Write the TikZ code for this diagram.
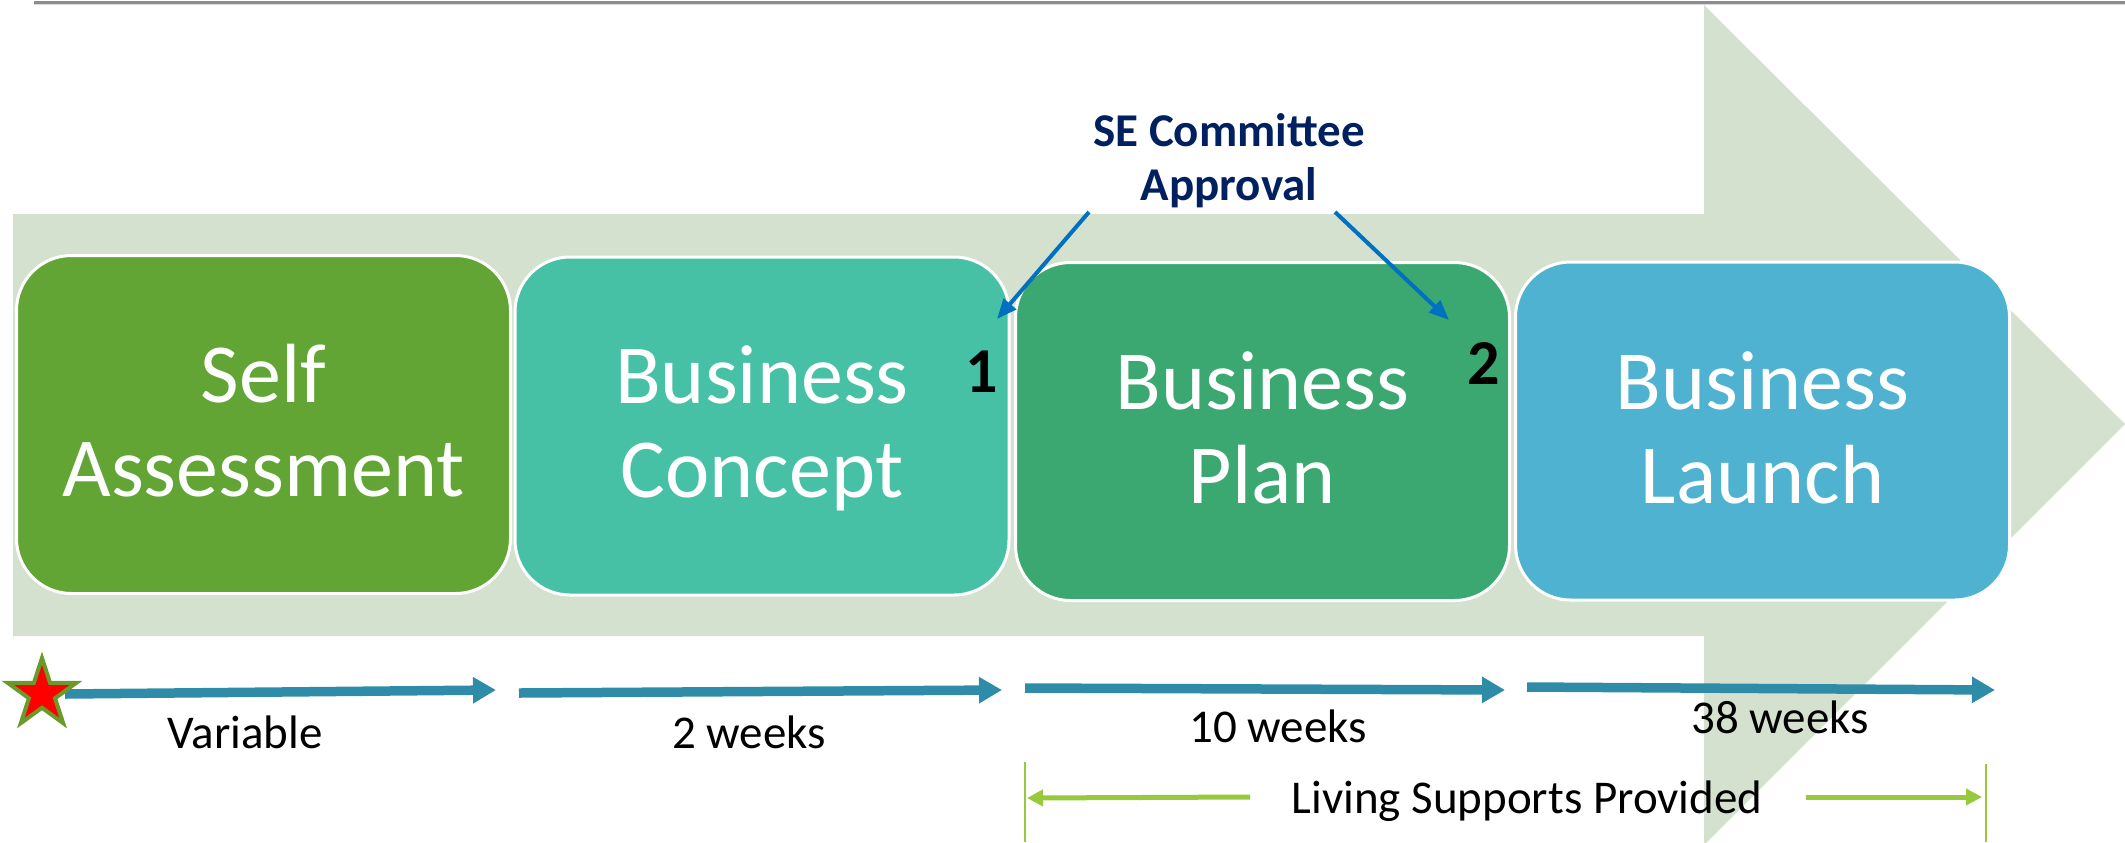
\documentclass[tikz,border=0pt]{standalone}
\usepackage{fontspec}
\setmainfont{Carlito}
\usetikzlibrary{arrows.meta,shapes.geometric}
\definecolor{bgarrow}{HTML}{D5E1CF}
\definecolor{cSelf}{HTML}{62A535}
\definecolor{cConcept}{HTML}{46C1A5}
\definecolor{cPlan}{HTML}{3AA870}
\definecolor{cLaunch}{HTML}{4FB2D0}
\definecolor{tline}{HTML}{2F8CA8}
\definecolor{apprblue}{HTML}{0070C0}
\definecolor{navy}{HTML}{002060}
\definecolor{lgreen}{HTML}{98C83C}
\definecolor{starborder}{HTML}{6B9A2A}
\definecolor{topline}{HTML}{8C8C8C}
\begin{document}
\begin{tikzpicture}[x=0.5pt,y=-0.5pt,
  stage/.style={draw=white, line width=1.5pt, rounded corners=27.5pt,
    minimum width=247pt, minimum height=169pt, inner sep=0pt},
  stagetext/.style={text=white, font=\fontsize{42pt}{50pt}\selectfont, anchor=base, inner sep=0pt},
  smalltext/.style={text=black, font=\fontsize{23.5pt}{28pt}\selectfont, anchor=base, inner sep=0pt},
  apprtext/.style={text=navy, font=\bfseries\fontsize{23.5pt}{28pt}\selectfont, anchor=base, inner sep=0pt},
  numtext/.style={text=black, font=\bfseries\fontsize{32pt}{36pt}\selectfont, anchor=base, inner sep=0pt},
  tarrow/.style={draw=tline, line width=4.75pt, -{Triangle[length=11.5pt,width=12.5pt]}},
  apprarrow/.style={draw=apprblue, line width=2pt, -{Triangle[length=10pt,width=8pt]}},
  garrow/.style={draw=lgreen, line width=2.5pt, -{Triangle[length=8pt,width=8pt]}},
  gbar/.style={draw=lgreen, line width=1pt}
]
\useasboundingbox (0,0) rectangle (2125,842);
% top rule
\draw[topline, line width=1.3pt] (34,2.5) -- (2125,2.5);
\draw[black!15, line width=0.5pt] (34,4.5) -- (2125,4.5);
% big background arrow
\fill[bgarrow] (13,214) -- (1704,214) -- (1704,5) -- (2125,424) -- (1704,845) -- (1704,636) -- (13,636) -- cycle;
% stages
\node[stage, fill=cSelf] (self) at (263.5,424.5) {};
\node[stage, fill=cConcept] (concept) at (762,426) {};
\node[stage, fill=cPlan] (plan) at (1262.5,431.5) {};
\node[stage, fill=cLaunch] (launch) at (1762.5,431) {};
\node[stagetext] (selfa) at (263.5,402) {Self};
\node[stagetext] (selfb) at (263.5,496) {Assessment};
\node[stagetext] (conca) at (762,403.5) {Business};
\node[stagetext] (concb) at (762,497.5) {Concept};
\node[stagetext] (plana) at (1262.5,409) {Business};
\node[stagetext] (planb) at (1262.5,503) {Plan};
\node[stagetext] (launa) at (1762.5,409) {Business};
\node[stagetext] (launb) at (1762.5,503) {Launch};
% approval
\node[apprtext] (sea) at (1229,146) {SE Committee};
\node[apprtext] (seb) at (1229,200) {Approval};
\node[numtext] (n1) at (982,392) {1};
\node[numtext] (n2) at (1484,384) {2};
\coordinate (s1) at (1089,212);
\coordinate (e1) at (997,319);
\coordinate (s2) at (1335,212);
\coordinate (e2) at (1449,320);
\draw[apprarrow] (s1) -- (e1);
\draw[apprarrow] (s2) -- (e2);
% timeline
\coordinate (a1s) at (65,694);
\coordinate (a1e) at (496,690);
\coordinate (a2s) at (519,693);
\coordinate (a2e) at (1002,690);
\coordinate (a3s) at (1025,688);
\coordinate (a3e) at (1505,690);
\coordinate (a4s) at (1527,687);
\coordinate (a4e) at (1995,690);
\draw[tarrow] (a1s) -- (a1e);
\draw[tarrow] (a2s) -- (a2e);
\draw[tarrow] (a3s) -- (a3e);
\draw[tarrow] (a4s) -- (a4e);
\node[star, star points=5, star point ratio=2.618, minimum size=36pt, inner sep=0pt,
  fill=red, draw=starborder, line width=2pt] (st) at (42,694) {};
\node[smalltext] (var) at (245,748) {Variable};
\node[smalltext] (w2) at (749,748) {2 weeks};
\node[smalltext] (w10) at (1278,742) {10 weeks};
\node[smalltext] (w38) at (1780,733) {38 weeks};
% living supports
\node[smalltext] (lsp) at (1527,813) {Living Supports Provided};
\coordinate (g1t) at (1025,762);
\coordinate (g1b) at (1025,842);
\coordinate (g2t) at (1986,764);
\coordinate (g2b) at (1986,842);
\draw[gbar] (g1t) -- (g1b);
\draw[gbar] (g2t) -- (g2b);
\coordinate (l1s) at (1250,797);
\coordinate (l1e) at (1027,798);
\coordinate (l2s) at (1806,797);
\coordinate (l2e) at (1982,797);
\draw[garrow] (l1s) -- (l1e);
\draw[garrow] (l2s) -- (l2e);
\end{tikzpicture}
\end{document}
